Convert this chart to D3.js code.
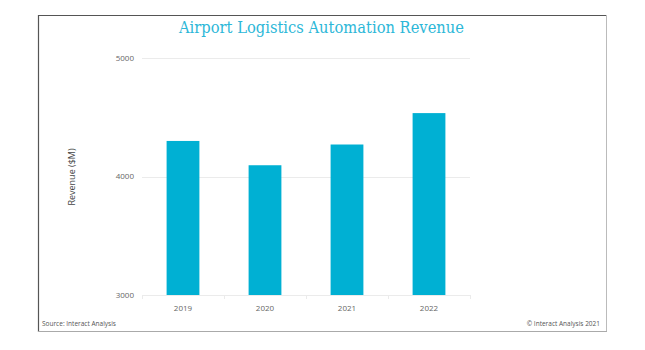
<!DOCTYPE html>
<html><head><meta charset="utf-8">
<script src="https://cdn.jsdelivr.net/npm/d3@7/dist/d3.min.js"></script>
<style>body{margin:0;background:#fff}svg{display:block}</style>
</head><body>
<script>
const categories = ["2019", "2020", "2021", "2022"];
const revenue = [4300, 4095, 4270, 4535];
const yTicks = [3000, 4000, 5000];
const title = "Airport Logistics Automation Revenue";
const yLabel = "Revenue ($M)";
const source = "Source: Interact Analysis";
const copyright = "© Interact Analysis 2021";

const W = 645, H = 350;
const svg = d3.select("body").append("svg").attr("width", W).attr("height", H);

// frame
svg.append("line").attr("x1", 38).attr("y1", 15.5).attr("x2", 607).attr("y2", 15.5).attr("stroke", "#555").attr("stroke-width", 1.2);
svg.append("line").attr("x1", 38.5).attr("y1", 15).attr("x2", 38.5).attr("y2", 332).attr("stroke", "#555").attr("stroke-width", 1.2);
svg.append("line").attr("x1", 606.5).attr("y1", 15).attr("x2", 606.5).attr("y2", 332).attr("stroke", "#bbb").attr("stroke-width", 1);
svg.append("line").attr("x1", 38).attr("y1", 331.5).attr("x2", 607).attr("y2", 331.5).attr("stroke", "#aaa").attr("stroke-width", 1.2);

const x = d3.scaleBand().domain(categories).range([142, 470]).paddingInner(0.6).paddingOuter(0.3);
const y = d3.scaleLinear().domain([3000, 5000]).range([295, 58]);

// gridlines
svg.append("g").selectAll("line").data(yTicks).join("line")
  .attr("x1", 142).attr("x2", 470)
  .attr("y1", d => Math.round(y(d)) + 0.5).attr("y2", d => Math.round(y(d)) + 0.5)
  .attr("stroke", "#ebebeb").attr("stroke-width", 1);

// y tick labels
svg.append("g").selectAll("text").data(yTicks).join("text")
  .attr("x", 134).attr("y", d => y(d)).attr("dy", "0.35em")
  .attr("text-anchor", "end").attr("font-family", "Open Sans").attr("font-size", 8)
  .attr("fill", "#666").text(d => d);

// bars
svg.append("g").selectAll("rect").data(categories).join("rect")
  .attr("x", d => x(d)).attr("width", x.bandwidth())
  .attr("y", (d, i) => y(revenue[i])).attr("height", (d, i) => y(3000) - y(revenue[i]))
  .attr("fill", "#00b0d3");

// x axis separators
const step = x.step();
const bounds = [142].concat(categories.map(c => x(c) - x.bandwidth() * 0 + x.bandwidth() + (step - x.bandwidth()) / 2));
svg.append("g").selectAll("line").data(bounds).join("line")
  .attr("x1", d => Math.round(d) + 0.5).attr("x2", d => Math.round(d) + 0.5)
  .attr("y1", 295).attr("y2", 299).attr("stroke", "#ebebeb");

// x labels
svg.append("g").selectAll("text").data(categories).join("text")
  .attr("x", d => x(d) + x.bandwidth() / 2).attr("y", 308).attr("dy", "0.35em")
  .attr("text-anchor", "middle").attr("font-family", "Open Sans").attr("font-size", 8)
  .attr("fill", "#666").text(d => d);

// y label
svg.append("text").attr("transform", "translate(72,177) rotate(-90)")
  .attr("text-anchor", "middle").attr("dy", "0.35em")
  .attr("font-family", "Open Sans").attr("font-size", 9).attr("fill", "#444").text(yLabel);

// title
svg.append("text").attr("x", 321.5).attr("y", 33).attr("text-anchor", "middle")
  .attr("font-family", "DejaVu Serif").attr("font-size", 16.5).attr("fill", "#2cb7d8")
  .attr("textLength", 285).attr("lengthAdjust", "spacingAndGlyphs").text(title);

// footer
svg.append("text").attr("x", 42).attr("y", 324).attr("dy", "0.35em")
  .attr("font-family", "Open Sans").attr("font-size", 6.5).attr("fill", "#555").text(source);
svg.append("text").attr("x", 600).attr("y", 324).attr("dy", "0.35em").attr("text-anchor", "end")
  .attr("font-family", "Open Sans").attr("font-size", 6.5).attr("fill", "#555").text(copyright);
</script>
</body></html>
